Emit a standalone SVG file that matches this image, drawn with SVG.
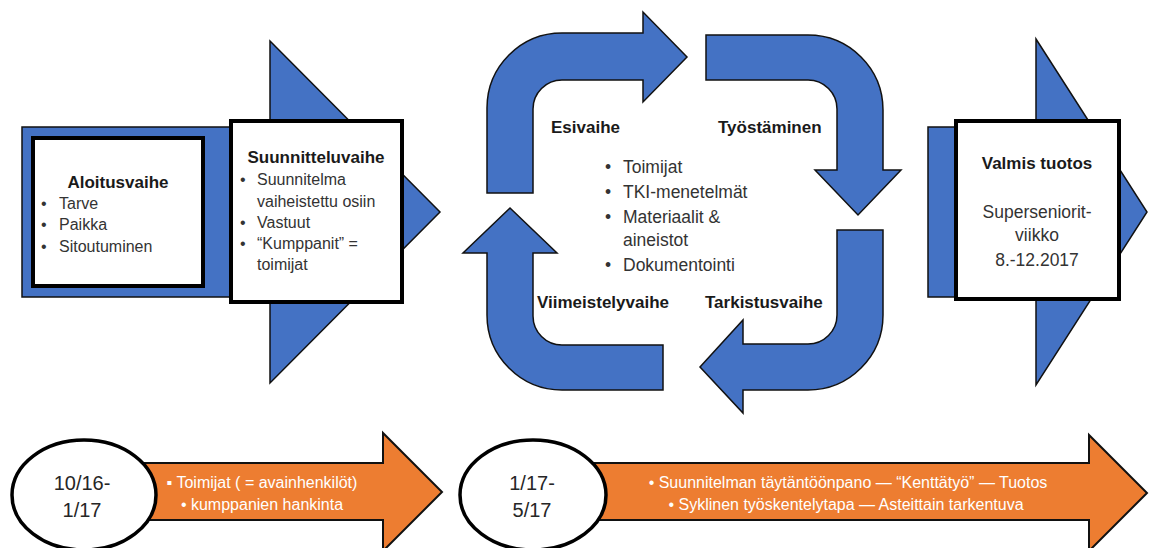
<svg xmlns="http://www.w3.org/2000/svg" width="1149" height="548" viewBox="0 0 1149 548">
<style>
.blue{fill:#4472C4;stroke:#111;stroke-width:1.5;stroke-linejoin:miter}
.orange{fill:#ED7D31;stroke:#111;stroke-width:2}
.box{fill:#fff;stroke:#000;stroke-width:4}
.oval{fill:#fff;stroke:#000;stroke-width:3.5}
.h{font-family:"Liberation Sans",Arial,sans-serif;font-weight:bold;font-size:17px;fill:#1a1a1a}
.t{font-family:"Liberation Sans",Arial,sans-serif;font-size:16px;fill:#333}
.m{font-family:"Liberation Sans",Arial,sans-serif;font-size:17.5px;fill:#333}
.d{font-family:"Liberation Sans",Arial,sans-serif;font-size:20px;fill:#262626;text-anchor:middle}
.w{font-family:"Liberation Sans",Arial,sans-serif;font-size:16px;fill:#fff;text-anchor:middle}
</style>
<rect width="1149" height="548" fill="#fff"/>

<g id="start-phase">
  <rect class="blue" x="22" y="127" width="208" height="170"/>
  <polygon class="blue" points="270,41 440,212 270,383"/>
  <rect class="box" x="33" y="138" width="170" height="148" stroke-width="5"/>
  <text class="h" x="118" y="188" text-anchor="middle">Aloitusvaihe</text>
  <text class="t" x="41" y="209">•</text><text class="t" x="59" y="209">Tarve</text>
  <text class="t" x="41" y="230">•</text><text class="t" x="59" y="230">Paikka</text>
  <text class="t" x="41" y="252">•</text><text class="t" x="59" y="252">Sitoutuminen</text>
</g>

<g id="planning-phase">
  <rect class="box" x="231" y="121" width="171" height="181"/>
  <text class="h" x="316" y="163" text-anchor="middle">Suunnitteluvaihe</text>
  <text class="t" x="240" y="185">•</text><text class="t" x="257" y="185">Suunnitelma</text>
  <text class="t" x="257" y="207">vaiheistettu osiin</text>
  <text class="t" x="240" y="228">•</text><text class="t" x="257" y="228">Vastuut</text>
  <text class="t" x="240" y="249">•</text><text class="t" x="257" y="249">“Kumppanit” =</text>
  <text class="t" x="257" y="270">toimijat</text>
</g>

<g id="connectors">
  <path class="blue" d="M487,193 L487,108 A75,75 0 0 1 562,33 L643,33 L643,12 L687,57 L643,102 L643,80 L562,80 A29,29 0 0 0 533,109 L533,193 Z"/>
  <path class="blue" d="M706,35 L808,35 A75,75 0 0 1 883,110 L883,170 L901,170 L858,215 L815,170 L837,170 L837,109 A29,29 0 0 0 808,80 L706,80 Z"/>
  <path class="blue" d="M837,230 L837,315 A29,29 0 0 1 808,344 L743,344 L743,320 L700,367 L743,413 L743,390 L808,390 A75,75 0 0 0 883,315 L883,230 Z"/>
  <path class="blue" d="M663,345 L562,345 A29,29 0 0 1 533,316 L533,253 L557,253 L510,208 L463,253 L487,253 L487,315 A75,75 0 0 0 562,390 L663,390 Z"/>
</g>

<g id="cycle">
  <text class="h" x="551" y="133">Esivaihe</text>
  <text class="h" x="718" y="133">Työstäminen</text>
  <text class="h" x="537" y="308">Viimeistelyvaihe</text>
  <text class="h" x="705" y="308">Tarkistusvaihe</text>
  <text class="m" x="605" y="173">•</text><text class="m" x="623" y="173">Toimijat</text>
  <text class="m" x="605" y="198">•</text><text class="m" x="623" y="198">TKI-menetelmät</text>
  <text class="m" x="605" y="223">•</text><text class="m" x="623" y="223">Materiaalit &amp;</text>
  <text class="m" x="623" y="246">aineistot</text>
  <text class="m" x="605" y="271">•</text><text class="m" x="623" y="271">Dokumentointi</text>
</g>

<g id="result">
  <rect class="blue" x="928" y="127" width="30" height="170"/>
  <polygon class="blue" points="1036,39 1147,212 1036,385"/>
  <rect class="box" x="956" y="121" width="163" height="178"/>
  <text class="h" x="1037" y="169" text-anchor="middle">Valmis tuotos</text>
  <text class="m" x="1037" y="218" text-anchor="middle">Superseniorit-</text>
  <text class="m" x="1037" y="241" text-anchor="middle">viikko</text>
  <text class="m" x="1037" y="266" text-anchor="middle">8.-12.2017</text>
</g>

<g id="timeline-1">
  <polygon class="orange" points="140,463 383,463 383,433 442,492 383,551 383,520 140,520"/>
  <ellipse class="oval" cx="84" cy="495" rx="72" ry="55"/>
  <text class="d" x="82" y="490">10/16-</text>
  <text class="d" x="82" y="517">1/17</text>
  <text class="w" x="262" y="488">▪ Toimijat ( = avainhenkilöt)</text>
  <text class="w" x="262" y="510">• kumppanien hankinta</text>
</g>

<g id="timeline-2">
  <polygon class="orange" points="590,463 1089,463 1089,435 1147,493 1089,551 1089,520 590,520"/>
  <ellipse class="oval" cx="533" cy="495" rx="73" ry="55"/>
  <text class="d" x="532" y="490">1/17-</text>
  <text class="d" x="532" y="517">5/17</text>
  <text class="w" x="848" y="488">• Suunnitelman täytäntöönpano — “Kenttätyö” — Tuotos</text>
  <text class="w" x="846" y="510">• Syklinen työskentelytapa — Asteittain tarkentuva</text>
</g>
</svg>
